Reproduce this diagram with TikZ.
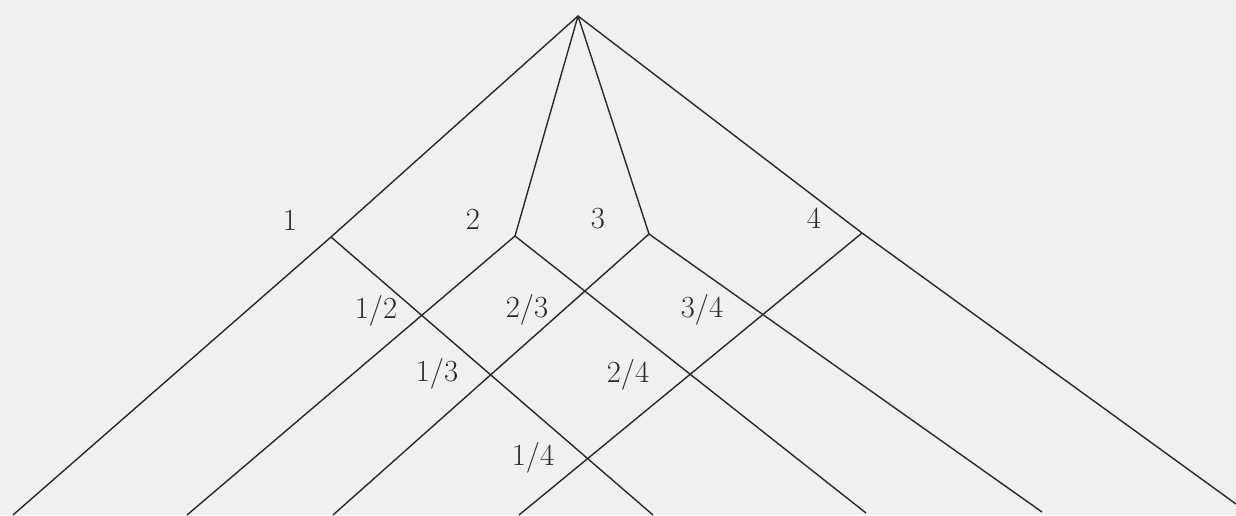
\documentclass[tikz,border=0pt]{standalone}
\definecolor{paperGrey}{HTML}{F0F0F0}
\definecolor{inkGrey}{HTML}{2A2A2A}
\usepackage{tikz}

\begin{document}
\begin{tikzpicture}[x=0.02cm, y=-0.02cm,
  ray/.style={draw=inkGrey, line width=0.8pt, line join=miter},
  lbl/.style={font=\fontsize{17.5}{20}\selectfont, text=inkGrey, inner sep=0pt}]
  \fill[paperGrey] (0,0) rectangle (1236,515);
  \useasboundingbox (0,0) rectangle (1236,515);
  % junctions
  \coordinate (apex) at (578,16);
  \coordinate (p1) at (331,237);
  \coordinate (p2) at (515,236);
  \coordinate (p3) at (649,234);
  \coordinate (p4) at (862,233);
  % loose ends at the bottom
  \coordinate (b1) at (13,515);
  \coordinate (b2) at (187,515);
  \coordinate (b3) at (333,515);
  \coordinate (b4) at (519,515);
  \coordinate (c1) at (653,515);
  \coordinate (c2) at (866,513);
  \coordinate (c3) at (1042,512);
  \coordinate (c4) at (1236,504);
  % branches
  \draw[ray] (b1) -- (p1) -- (apex) -- (p4) -- (c4);
  \draw[ray] (apex) -- (p2);
  \draw[ray] (apex) -- (p3);
  \draw[ray] (p1) -- (c1);
  \draw[ray] (b2) -- (p2) -- (c2);
  \draw[ray] (b3) -- (p3) -- (c3);
  \draw[ray] (p4) -- (b4);
  % labels
  \node[lbl] (n1) at (290,220) {1};
  \node[lbl] (n2) at (473,219) {2};
  \node[lbl] (n3) at (598,219) {3};
  \node[lbl] (n4) at (814,218) {4};
  \node[lbl] (n12) at (376,311) {1/2};
  \node[lbl] (n23) at (527,310) {2/3};
  \node[lbl] (n34) at (702,310) {3/4};
  \node[lbl] (n13) at (437,374) {1/3};
  \node[lbl] (n24) at (628,375) {2/4};
  \node[lbl] (n14) at (533,458) {1/4};
\end{tikzpicture}
\end{document}
